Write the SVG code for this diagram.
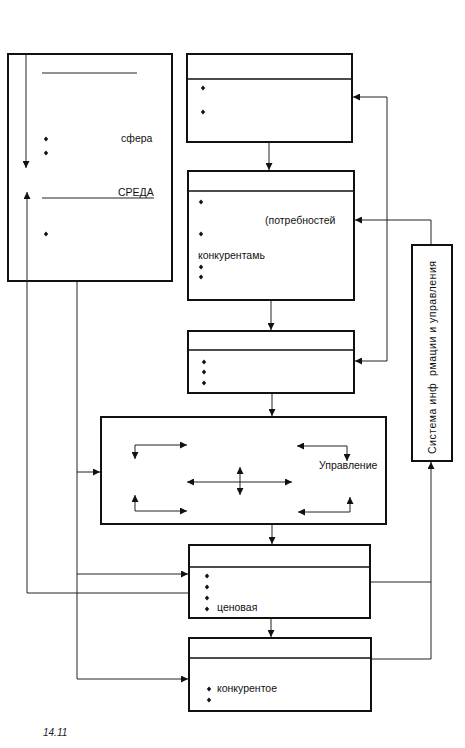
<svg xmlns="http://www.w3.org/2000/svg" width="465" height="748" viewBox="0 0 465 748">
<style>
.box{fill:#fff;stroke:#111;stroke-width:2}
.div{stroke:#111;stroke-width:1.5}
.c{fill:none;stroke:#222;stroke-width:1}
.t{font-family:"Liberation Sans",Arial,sans-serif;font-size:10.5px;fill:#111}
.dot{fill:#111}
</style>
<defs>
<marker id="a" viewBox="0 0 10 10" refX="10" refY="5" markerWidth="7" markerHeight="7" markerUnits="userSpaceOnUse" orient="auto-start-reverse">
<path d="M0,0 L10,5 L0,10 z" fill="#111"/>
</marker>
<path id="d" d="M0,-2.4 L2.2,0 L0,2.4 L-2.2,0 z" fill="#111"/>
</defs>
<rect width="465" height="748" fill="#fff"/>
<g id="env">
<rect class="box" x="8" y="54" width="164" height="227"/>
<line class="c" x1="42" y1="73" x2="137" y2="73"/>
<use href="#d" x="46" y="139"/>
<use href="#d" x="46" y="153"/>
<text class="t" x="121" y="142">сфера</text>
<line class="c" x1="42" y1="198" x2="154" y2="198"/>
<text class="t" x="118" y="196">СРЕДА</text>
<use href="#d" x="46" y="234"/>
</g>
<g id="box1">
<rect class="box" x="187" y="54" width="165" height="88"/>
<line class="div" x1="187" y1="79" x2="352" y2="79"/>
<use href="#d" x="203" y="88"/>
<use href="#d" x="203" y="112"/>
</g>
<g id="box2">
<rect class="box" x="188" y="171" width="166" height="129"/>
<line class="div" x1="188" y1="191" x2="354" y2="191"/>
<use href="#d" x="201" y="202"/>
<text class="t" x="265" y="224">(потребностей</text>
<use href="#d" x="201" y="234"/>
<text class="t" x="198" y="259">конкурентамь</text>
<use href="#d" x="201" y="267"/>
<use href="#d" x="201" y="277"/>
</g>
<g id="box3">
<rect class="box" x="188" y="331" width="166" height="62"/>
<line class="div" x1="188" y1="350" x2="354" y2="350"/>
<use href="#d" x="204" y="362"/>
<use href="#d" x="204" y="372"/>
<use href="#d" x="204" y="383"/>
</g>
<g id="mgmt">
<rect class="box" x="101" y="417" width="285" height="107"/>
<path class="c" d="M135,459 L135,445 L187,445" marker-start="url(#a)" marker-end="url(#a)"/>
<path class="c" d="M135,495 L135,511 L187,511" marker-start="url(#a)" marker-end="url(#a)"/>
<path class="c" d="M297,446 L347,446 L347,461" marker-start="url(#a)" marker-end="url(#a)"/>
<path class="c" d="M350,497 L350,512 L298,512" marker-start="url(#a)" marker-end="url(#a)"/>
<path class="c" d="M187,482 L292,482" marker-start="url(#a)" marker-end="url(#a)"/>
<path class="c" d="M240,467 L240,495" marker-start="url(#a)" marker-end="url(#a)"/>
<text class="t" x="319" y="469">Управление</text>
</g>
<g id="info">
<rect class="box" x="412" y="245" width="40" height="216"/>
<text class="t" transform="translate(436,454) rotate(-90)" font-size="12" textLength="193" lengthAdjust="spacing" xml:space="preserve">Система инф  рмации и управления</text>
</g>
<g id="box4">
<rect class="box" x="189" y="545" width="181" height="73"/>
<line class="div" x1="189" y1="567" x2="370" y2="567"/>
<use href="#d" x="207" y="576"/>
<use href="#d" x="207" y="587"/>
<use href="#d" x="207" y="598"/>
<use href="#d" x="207" y="609"/>
<text class="t" x="217" y="611">ценовая</text>
</g>
<g id="box5">
<rect class="box" x="189" y="638" width="182" height="73"/>
<line class="div" x1="189" y1="658" x2="371" y2="658"/>
<use href="#d" x="209" y="689"/>
<text class="t" x="217" y="692">конкурентое</text>
<use href="#d" x="209" y="700"/>
</g>
<g id="connectors">
<path class="c" d="M26,55 L26,168" marker-end="url(#a)"/>
<path class="c" d="M188,593 L27,593 L27,192" marker-end="url(#a)"/>
<path class="c" d="M77,282 L77,679 L188,679" marker-end="url(#a)"/>
<path class="c" d="M77,472 L100,472" marker-end="url(#a)"/>
<path class="c" d="M77,574 L188,574" marker-end="url(#a)"/>
<path class="c" d="M269,143 L269,170" marker-end="url(#a)"/>
<path class="c" d="M271,301 L271,330" marker-end="url(#a)"/>
<path class="c" d="M272,394 L272,416" marker-end="url(#a)"/>
<path class="c" d="M272,525 L272,544" marker-end="url(#a)"/>
<path class="c" d="M271,619 L271,637" marker-end="url(#a)"/>
<path class="c" d="M387,97 L387,361"/>
<path class="c" d="M387,97 L353,97" marker-end="url(#a)"/>
<path class="c" d="M387,361 L355,361" marker-end="url(#a)"/>
<path class="c" d="M431,244 L431,220 L355,220" marker-end="url(#a)"/>
<path class="c" d="M372,659 L431,659 L431,462" marker-end="url(#a)"/>
<path class="c" d="M371,582 L431,582"/>
</g>
<text x="43" y="736" font-family="'Liberation Sans',Arial,sans-serif" font-style="italic" font-size="10" fill="#222">14.11</text>
</svg>
